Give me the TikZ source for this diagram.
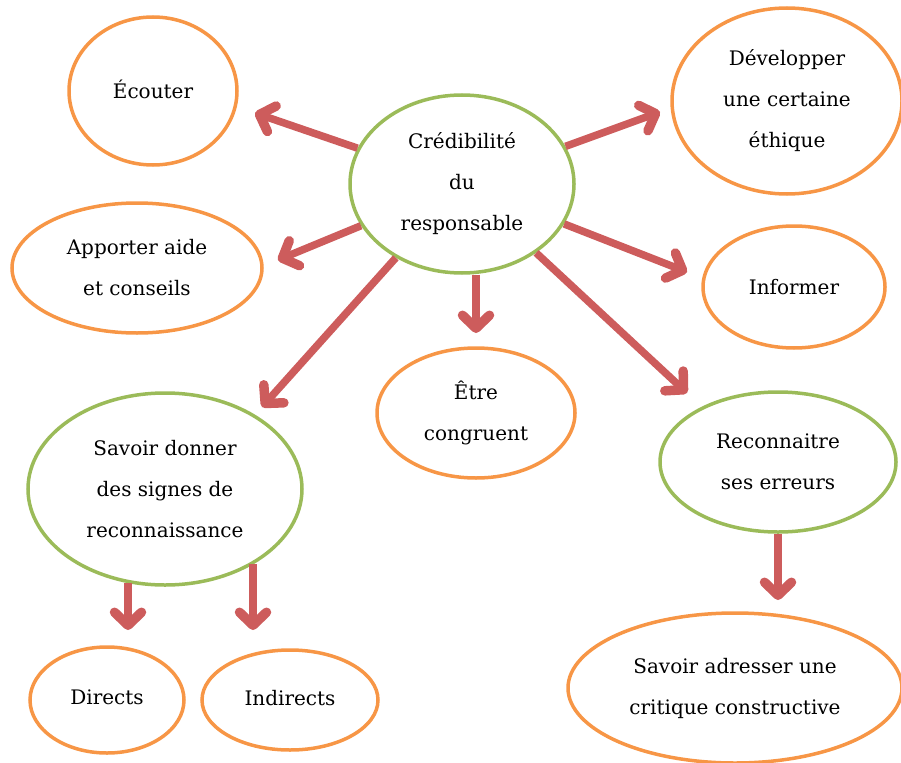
\documentclass[tikz,border=0pt]{standalone}
\usepackage{fontspec}
\setmainfont{DejaVu Serif}
\newfontfamily\bubfont{DejaVu Serif}
\usetikzlibrary{arrows.meta,shapes.geometric}
\definecolor{orng}{HTML}{F79646}
\definecolor{grn}{HTML}{9BBB59}
\definecolor{arr}{RGB}{205,92,92}
\begin{document}
\begin{tikzpicture}[x=1pt,y=-1pt,
  bub/.style={ellipse, draw, line width=3.5pt, inner sep=0pt, align=center,
              font=\bubfont\fontsize{20}{41}\selectfont},
  ob/.style={bub, draw=orng},
  gb/.style={bub, draw=grn},
  arw/.style={draw=arr, line width=7.5pt, -{Straight Barb[length=13pt,width=27pt,round,line width=9.5pt]}}]
\useasboundingbox (0,0) rectangle (901,762);
% nodes
\node[gb, minimum width=224pt, minimum height=178pt] (crd) at (462,184) {Crédibilité\\du\\responsable};
\node[ob, minimum width=168pt, minimum height=148pt] (ecu) at (153,91) {\raisebox{4pt}{Écouter}};
\node[ob, minimum width=230pt, minimum height=186pt] (dev) at (787,101) {Développer\\une certaine\\éthique};
\node[ob, minimum width=250pt, minimum height=130pt] (app) at (137,268) {Apporter aide\\et conseils};
\node[ob, minimum width=182pt, minimum height=122pt] (inf) at (794,287) {Informer};
\node[ob, minimum width=198pt, minimum height=130pt] (etr) at (476,413) {Être\\congruent};
\node[gb, minimum width=274pt, minimum height=192pt] (sd) at (165,489) {Savoir donner\\des signes de\\reconnaissance};
\node[gb, minimum width=236pt, minimum height=140pt] (rec) at (778,462) {Reconnaitre\\ses erreurs};
\node[ob, minimum width=154pt, minimum height=106pt] (dir) at (107,700) {\raisebox{5pt}{Directs}};
\node[ob, minimum width=176pt, minimum height=100pt] (ind) at (290,700) {\raisebox{5pt}{Indirects}};
\node[ob, minimum width=334pt, minimum height=150pt] (sad) at (735,688) {Savoir adresser une\\critique constructive};
% arrow tips
\coordinate (tEc) at (255,113);
\coordinate (tAp) at (278,260);
\coordinate (tDe) at (660,112);
\coordinate (tIn) at (687,272);
\coordinate (tEt) at (476,333);
\coordinate (tSd) at (262,407);
\coordinate (tRe) at (687,393);
\coordinate (tDi) at (128,630);
\coordinate (tId) at (253,630);
\coordinate (tSa) at (778,600);
% connectors
\draw[arw] (crd) -- (tEc);
\draw[arw] (crd) -- (tAp);
\draw[arw] (crd) -- (tDe);
\draw[arw] (crd) -- (tIn);
\draw[arw] (tEt |- crd.south) -- (tEt);
\draw[arw] (crd) -- (tSd);
\draw[arw] (crd) -- (tRe);
\draw[arw] (tDi |- sd.-112) -- (tDi);
\draw[arw] (tId |- sd.-40) -- (tId);
\draw[arw] (rec.south) -- (tSa);
\end{tikzpicture}
\end{document}
